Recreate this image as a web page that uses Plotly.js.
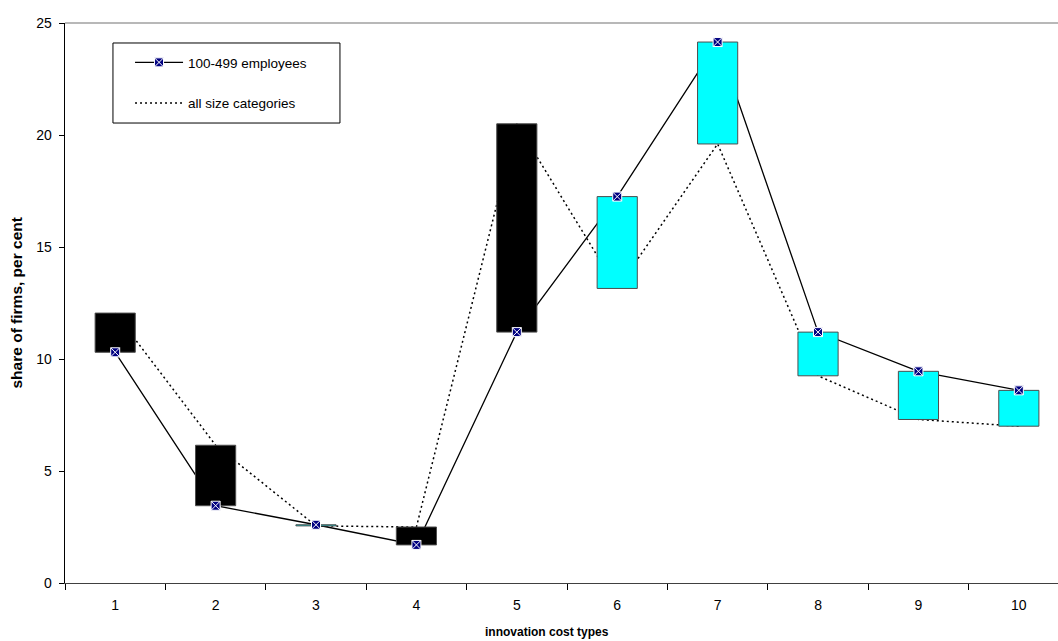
<!DOCTYPE html>
<html>
<head>
<meta charset="utf-8">
<script src="https://cdn.plot.ly/plotly-3.0.1.min.js"></script>
<style>html,body{margin:0;padding:0;background:#fff;}#chart{width:1058px;height:641px;}</style>
</head>
<body>
<div id="chart"></div>
<script>
// Data
const costTypes = [1, 2, 3, 4, 5, 6, 7, 8, 9, 10];
const tickLabels = ["1", "2", "3", "4", "5", "6", "7", "8", "9", "10"];
const firms100to499 = [10.3, 3.45, 2.6, 1.7, 11.2, 17.25, 24.15, 11.2, 9.45, 8.6];
const allSizeCategories = [12.05, 6.15, 2.55, 2.5, 20.5, 13.15, 19.6, 9.25, 7.3, 7.0];

// Up/down boxes between the two series (built from the arrays)
const halfW = 0.2;
function boxes(up) {
  const xs = [], ys = [];
  costTypes.forEach((c, i) => {
    const a = firms100to499[i], b = allSizeCategories[i];
    if ((a >= b) !== up) return;
    const lo = Math.min(a, b), hi = Math.max(a, b);
    xs.push(c - halfW, c + halfW, c + halfW, c - halfW, c - halfW, null);
    ys.push(lo, lo, hi, hi, lo, null);
  });
  return {xs, ys};
}
const downB = boxes(false), upB = boxes(true);

const markerStyle = {symbol: 'square-x', size: 9, color: '#000080', line: {color: '#ffffff', width: 1}};

const traces = [
  {
    x: costTypes, y: firms100to499, type: 'scatter', mode: 'lines+markers',
    name: '100-499 employees', legendgroup: 'a',
    line: {color: '#000000', width: 1.3},
    marker: markerStyle
  },
  {
    x: costTypes, y: allSizeCategories, type: 'scatter', mode: 'lines',
    name: 'all size categories', legendgroup: 'b',
    line: {color: '#000000', width: 1.5, dash: '2px,3px'}
  },
  {
    x: downB.xs, y: downB.ys, type: 'scatter', mode: 'lines', fill: 'toself',
    fillcolor: '#000000', line: {color: '#4d4d4d', width: 1}, showlegend: false, hoverinfo: 'skip'
  },
  {
    x: upB.xs, y: upB.ys, type: 'scatter', mode: 'lines', fill: 'toself',
    fillcolor: '#00ffff', line: {color: '#4d4d4d', width: 1}, showlegend: false, hoverinfo: 'skip'
  },
  {
    x: costTypes, y: firms100to499, type: 'scatter', mode: 'markers', showlegend: false,
    marker: markerStyle
  }
];

const layout = {
  width: 1058, height: 641,
  margin: {l: 65, r: 0, t: 23, b: 58, pad: 0},
  paper_bgcolor: '#ffffff', plot_bgcolor: '#ffffff',
  font: {family: 'Liberation Sans, Arial, sans-serif', size: 12, color: '#000000'},
  showlegend: true,
  legend: {
    x: 0.0655, y: 0.957, xanchor: 'left', yanchor: 'top',
    borderwidth: 0, bgcolor: 'rgba(0,0,0,0)',
    font: {size: 13.5}, itemwidth: 48, tracegroupgap: 20, traceorder: 'grouped'
  },
  xaxis: {
    type: 'linear', range: [0.5, 10.39], fixedrange: true,
    tickmode: 'array', tickvals: costTypes, ticktext: tickLabels,
    ticks: '', showgrid: false, zeroline: false,
    showline: true, linecolor: '#404040', linewidth: 1.3,
    tickfont: {size: 14}, ticklabelstandoff: 9,
    minor: {tickmode: 'array', tickvals: [0.5, 1.5, 2.5, 3.5, 4.5, 5.5, 6.5, 7.5, 8.5, 9.5],
            ticks: 'outside', ticklen: 6, tickcolor: '#000000', tickwidth: 1, showgrid: false}
  },
  yaxis: {
    range: [0, 25], tickvals: [0, 5, 10, 15, 20, 25], ticks: 'outside', ticklen: 5,
    tickcolor: '#000000', showgrid: false, zeroline: false,
    showline: true, linecolor: '#000000', linewidth: 1.3,
    tickfont: {size: 14}, ticklabelstandoff: 4
  },
  shapes: [
    {type: 'line', xref: 'paper', yref: 'paper', x0: 0, x1: 1, y0: 1, y1: 1,
     line: {color: '#a0a0a0', width: 1.5}},
    {type: 'rect', xref: 'paper', yref: 'paper', x0: 0.0483, x1: 0.2769, y0: 0.8214, y1: 0.9643,
     line: {color: '#000000', width: 1}, fillcolor: '#ffffff', layer: 'below'}
  ],
  annotations: [
    {text: '<b>innovation cost types</b>', xref: 'paper', yref: 'paper',
     x: 0.485, y: 0, yshift: -49, showarrow: false, font: {size: 12}, xanchor: 'center', yanchor: 'middle'},
    {text: '<b>share of firms, per cent</b>', xref: 'paper', yref: 'paper', textangle: -90,
     x: 0, y: 0.5, xshift: -49.5, showarrow: false, font: {size: 15.5}, xanchor: 'center', yanchor: 'middle'}
  ]
};

Plotly.newPlot('chart', traces, layout, {displayModeBar: false, staticPlot: true});
</script>
</body>
</html>
